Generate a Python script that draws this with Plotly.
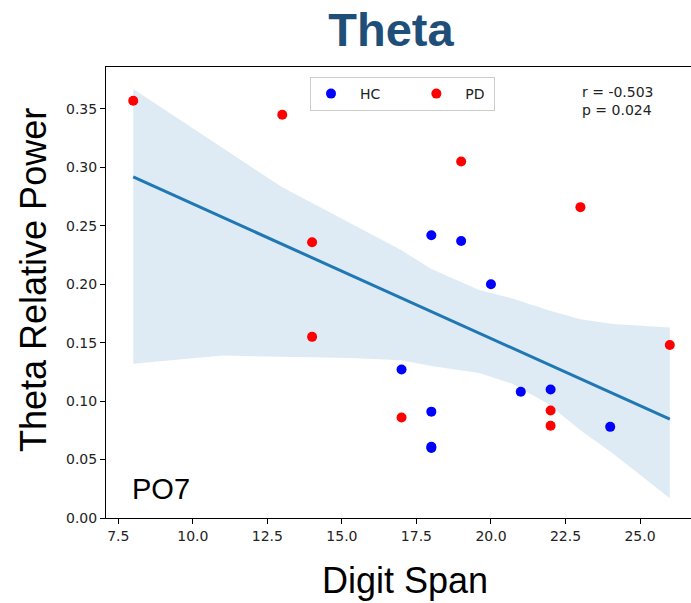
import numpy as np
import plotly.graph_objects as go

# ---- data ----
hc_x = [18, 19, 20, 17, 18, 18, 18, 21, 22, 24]
hc_y = [0.242, 0.237, 0.200, 0.127, 0.091, 0.061, 0.060, 0.108, 0.110, 0.078]
pd_x = [8, 13, 14, 14, 19, 23, 26, 17, 22, 22]
pd_y = [0.357, 0.345, 0.236, 0.155, 0.305, 0.266, 0.148, 0.086, 0.092, 0.079]

# confidence band edges
band_x = [8, 11, 13, 15.3, 17, 18, 19.6, 20.7, 21.9, 23, 24.1, 26]
band_hi = [0.367, 0.317, 0.283, 0.252, 0.229, 0.213, 0.195, 0.188, 0.178, 0.170, 0.166, 0.163]
band_lo = [0.132, 0.139, 0.138, 0.137, 0.135, 0.130, 0.124, 0.115, 0.098, 0.075, 0.055, 0.017]

stats_text = "r = -0.503<br>p = 0.024"
channel = "PO7"
NB = "\u00a0"

# regression line computed from all points
all_x = np.array(hc_x + pd_x, dtype=float)
all_y = np.array(hc_y + pd_y, dtype=float)
slope, intercept = np.polyfit(all_x, all_y, 1)
line_x = np.array([all_x.min(), all_x.max()])
line_y = slope * line_x + intercept

fig = go.Figure()
fig.add_trace(go.Scatter(
    x=band_x + band_x[::-1], y=band_hi + band_lo[::-1],
    fill="toself", fillcolor="rgba(31,119,180,0.15)", line=dict(width=0),
    mode="lines", showlegend=False, hoverinfo="skip"))
fig.add_trace(go.Scatter(
    x=line_x, y=line_y, mode="lines", line=dict(color="#1f77b4", width=3),
    showlegend=False))
fig.add_trace(go.Scatter(
    x=hc_x, y=hc_y, mode="markers", name=NB * 2 + "HC" + NB * 7,
    marker=dict(color="#0000ff", size=10)))
fig.add_trace(go.Scatter(
    x=pd_x, y=pd_y, mode="markers", name=NB * 2 + "PD" + NB,
    marker=dict(color="#ff0000", size=10)))

tickfont = dict(family="DejaVu Sans", size=14, color="#222222")
fig.update_layout(
    width=691, height=603,
    margin=dict(l=106, r=0, t=67, b=85),
    paper_bgcolor="white", plot_bgcolor="white",
    title=dict(text="<b>Theta</b>", xref="container", yref="container",
               x=391 / 691, y=1 - 30 / 603, xanchor="center", yanchor="middle",
               font=dict(family="Liberation Sans", size=47, color="#1F4E79")),
    xaxis=dict(range=[7.087, 26.71], tick0=7.5, dtick=2.5, tickformat=".1f",
               showgrid=False, zeroline=False, showline=True, mirror=True,
               linecolor="black", linewidth=1, ticks="outside", ticklen=5,
               tickcolor="black", tickfont=tickfont),
    yaxis=dict(range=[0, 0.3859], tick0=0, dtick=0.05, tickformat=".2f",
               showgrid=False, zeroline=False, showline=True, mirror=False,
               linecolor="black", linewidth=1, ticks="outside", ticklen=5,
               tickcolor="black", tickfont=tickfont),
    legend=dict(orientation="h", x=(310 - 106) / 585, y=(518 - 77) / 451,
                xanchor="left", yanchor="top", bgcolor="white",
                bordercolor="#cccccc", borderwidth=1,
                font=dict(family="DejaVu Sans", size=14, color="#222222")),
    annotations=[
        dict(text="Theta Relative Power", xref="paper", yref="paper",
             x=(33 - 106) / 585, y=(518 - 280) / 451, textangle=-90,
             showarrow=False, xanchor="center", yanchor="middle",
             font=dict(family="Liberation Sans", size=36, color="black")),
        dict(text="Digit Span", xref="paper", yref="paper",
             x=(405 - 106) / 585, y=(518 - 580) / 451,
             showarrow=False, xanchor="center", yanchor="middle",
             font=dict(family="Liberation Sans", size=36, color="black")),
        dict(text=stats_text, xref="paper", yref="paper",
             x=(580 - 106) / 585, y=(518 - 82) / 451, align="left",
             showarrow=False, xanchor="left", yanchor="top",
             font=dict(family="DejaVu Sans", size=14, color="#222222")),
        dict(text=channel, xref="paper", yref="paper",
             x=(130 - 106) / 585, y=(518 - 489) / 451,
             showarrow=False, xanchor="left", yanchor="middle",
             font=dict(family="Liberation Sans", size=29, color="black")),
    ],
)

fig.write_html("out.html")
